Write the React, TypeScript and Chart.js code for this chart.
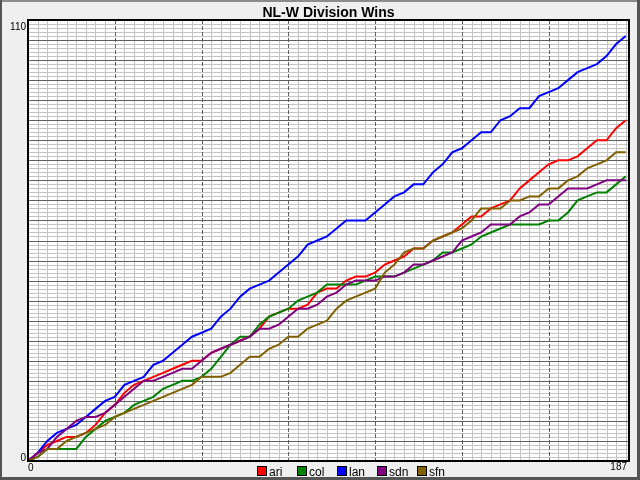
import React, { useEffect, useRef } from "react";
import { Chart, registerables } from "chart.js";

Chart.register(...registerables);

const chartTitle = "NL-W Division Wins";
const xMin = 0;
const xMax = 187;
const yMin = 0;
const yMax = 110;
const xTickLabels = ["0", "187"];
const yTickLabels = ["0", "110"];

// day of season (sampled every 3 days)
const days = [
  0, 3, 6, 9, 12, 15, 18, 21, 24, 27,
  30, 33, 36, 39, 42, 45, 48, 51, 54, 57,
  60, 63, 66, 69, 72, 75, 78, 81, 84, 87,
  90, 93, 96, 99, 102, 105, 108, 111, 114, 117,
  120, 123, 126, 129, 132, 135, 138, 141, 144, 147,
  150, 153, 156, 159, 162, 165, 168, 171, 174, 177,
  180, 183, 186,
];

const teams = ["ari", "col", "lan", "sdn", "sfn"];
const teamColors = ["#ff0000", "#008000", "#0000ff", "#800080", "#806000"];

const ari = [
  0, 2, 4, 5, 6, 6, 7, 9, 12, 14,
  17, 19, 20, 21, 22, 23, 24, 25, 25, 27,
  28, 29, 30, 31, 33, 36, 37, 38, 38, 39,
  42, 43, 43, 45, 46, 46, 47, 49, 50, 51,
  53, 53, 55, 56, 57, 59, 61, 61, 63, 64,
  65, 68, 70, 72, 74, 75, 75, 76, 78, 80,
  80, 83, 85,
];
const col = [
  0, 1, 3, 3, 3, 3, 6, 8, 10, 11,
  12, 14, 15, 16, 18, 19, 20, 20, 21, 23,
  26, 29, 31, 31, 34, 36, 37, 38, 40, 41,
  42, 44, 44, 44, 44, 45, 46, 46, 46, 47,
  48, 49, 50, 52, 52, 53, 54, 56, 57, 58,
  59, 59, 59, 59, 60, 60, 62, 65, 66, 67,
  67, 69, 71,
];
const lan = [
  0, 2, 5, 7, 8, 9, 11, 13, 15, 16,
  19, 20, 21, 24, 25, 27, 29, 31, 32, 33,
  36, 38, 41, 43, 44, 45, 47, 49, 51, 54,
  55, 56, 58, 60, 60, 60, 62, 64, 66, 67,
  69, 69, 72, 74, 77, 78, 80, 82, 82, 85,
  86, 88, 88, 91, 92, 93, 95, 97, 98, 99,
  101, 104, 106,
];
const sdn = [
  0, 2, 3, 6, 8, 10, 11, 11, 12, 14,
  16, 18, 20, 20, 21, 22, 23, 23, 25, 27,
  28, 29, 30, 31, 33, 33, 34, 36, 38, 38,
  39, 41, 42, 44, 45, 45, 45, 46, 46, 47,
  49, 49, 50, 51, 52, 55, 56, 57, 59, 59,
  59, 61, 62, 64, 64, 66, 68, 68, 68, 69,
  70, 70, 70,
];
const sfn = [
  0, 1, 3, 3, 5, 6, 7, 8, 9, 11,
  12, 13, 14, 15, 16, 17, 18, 19, 21, 21,
  21, 22, 24, 26, 26, 28, 29, 31, 31, 33,
  34, 35, 38, 40, 41, 42, 43, 47, 49, 52,
  53, 53, 55, 56, 57, 58, 60, 63, 63, 63,
  65, 65, 66, 66, 68, 68, 70, 71, 73, 74,
  75, 77, 77,
];

const seriesValues = [ari, col, lan, sdn, sfn];

const FONT = "'Liberation Sans', Arial, Helvetica, sans-serif";

const decorPlugin = {
  id: "decor",
  beforeDraw(chart: any) {
    const { ctx, chartArea: a, scales } = chart;
    const W = chart.width;
    const H = chart.height;
    const xs = scales.x;
    const ys = scales.y;
    ctx.save();
    // page background and frame
    ctx.fillStyle = "#efefef";
    ctx.fillRect(0, 0, W, H);
    ctx.fillStyle = "#8c8c8c";
    ctx.fillRect(0, 0, W, 2);
    ctx.fillStyle = "#555555";
    ctx.fillRect(0, 0, 2, H);
    ctx.fillRect(W - 3, 0, 3, H);
    ctx.fillRect(0, H - 3, W, 3);
    // plot background
    ctx.fillStyle = "#ffffff";
    ctx.fillRect(a.left, a.top, a.right - a.left, a.bottom - a.top);
    ctx.lineWidth = 1;
    // minor grid
    ctx.strokeStyle = "#c4c4c4";
    ctx.beginPath();
    for (let v = yMin + 1; v < yMax; v++) {
      if (v % 5 === 0) continue;
      const py = Math.round(ys.getPixelForValue(v)) + 0.5;
      ctx.moveTo(a.left, py);
      ctx.lineTo(a.right, py);
    }
    for (let d = 3; d < xMax; d += 3) {
      if (d % 27 === 0) continue;
      const px = Math.round(xs.getPixelForValue(d)) + 0.5;
      ctx.moveTo(px, a.top);
      ctx.lineTo(px, a.bottom);
    }
    ctx.stroke();
    // major grid
    ctx.strokeStyle = "#606060";
    ctx.beginPath();
    for (let v = 5; v < yMax; v += 5) {
      const py = Math.round(ys.getPixelForValue(v)) + 0.5;
      ctx.moveTo(a.left, py);
      ctx.lineTo(a.right, py);
    }
    ctx.stroke();
    ctx.setLineDash([4, 2]);
    ctx.beginPath();
    for (let d = 27; d < xMax; d += 27) {
      const px = Math.round(xs.getPixelForValue(d)) + 0.5;
      ctx.moveTo(px, a.top);
      ctx.lineTo(px, a.bottom);
    }
    ctx.stroke();
    ctx.setLineDash([]);
    // title
    ctx.fillStyle = "#000000";
    ctx.font = "bold 14px " + FONT;
    ctx.textAlign = "center";
    ctx.textBaseline = "alphabetic";
    ctx.fillText(chartTitle, (a.left + a.right) / 2, 17);
    ctx.restore();
  },
  afterDraw(chart: any) {
    const { ctx, chartArea: a, scales } = chart;
    const xs = scales.x;
    const ys = scales.y;
    ctx.save();
    // plot border
    ctx.strokeStyle = "#000000";
    ctx.lineWidth = 2;
    ctx.strokeRect(a.left, a.top, a.right - a.left, a.bottom - a.top);
    // tick labels
    ctx.fillStyle = "#000000";
    ctx.font = "10px " + FONT;
    ctx.textBaseline = "alphabetic";
    ctx.textAlign = "right";
    ctx.fillText(yTickLabels[1], a.left - 2, ys.getPixelForValue(yMax) + 10);
    ctx.fillText(yTickLabels[0], a.left - 2, ys.getPixelForValue(yMin));
    ctx.textAlign = "left";
    ctx.fillText(xTickLabels[0], xs.getPixelForValue(xMin), a.bottom + 10);
    ctx.textAlign = "right";
    ctx.fillText(xTickLabels[1], xs.getPixelForValue(xMax) - 2, a.bottom + 9);
    // legend
    ctx.font = "12px " + FONT;
    ctx.textAlign = "left";
    chart.data.datasets.forEach((ds: any, i: number) => {
      const bx = 257 + i * 40;
      const by = 466;
      ctx.fillStyle = ds.borderColor;
      ctx.fillRect(bx, by, 10, 10);
      ctx.strokeStyle = "#000000";
      ctx.lineWidth = 1;
      ctx.strokeRect(bx + 0.5, by + 0.5, 9, 9);
      ctx.fillStyle = "#000000";
      ctx.fillText(ds.label, bx + 12, 475.5);
    });
    ctx.restore();
  },
};

export default function App() {
  const ref = useRef<HTMLCanvasElement | null>(null);
  useEffect(() => {
    document.body.style.margin = "0";
    const canvas = ref.current;
    if (!canvas) return;
    const chart = new Chart(canvas, {
      type: "line",
      data: {
        datasets: teams.map((t, i) => ({
          label: t,
          data: days.map((d, j) => ({ x: d, y: seriesValues[i][j] })),
          borderColor: teamColors[i],
          backgroundColor: teamColors[i],
          borderWidth: 2,
          pointRadius: 0,
          tension: 0,
          fill: false,
          order: teams.length - i,
        })),
      },
      options: {
        animation: false,
        responsive: false,
        devicePixelRatio: 1,
        events: [],
        layout: { padding: { left: 28, right: 11, top: 20, bottom: 19 } },
        plugins: {
          legend: { display: false },
          title: { display: false },
          tooltip: { enabled: false },
        },
        scales: {
          x: { type: "linear", min: xMin, max: xMax, display: false },
          y: { type: "linear", min: yMin, max: yMax, display: false },
        },
      },
      plugins: [decorPlugin],
    } as any);
    return () => chart.destroy();
  }, []);
  return <canvas ref={ref} width={640} height={480} style={{ display: "block" }} />;
}
